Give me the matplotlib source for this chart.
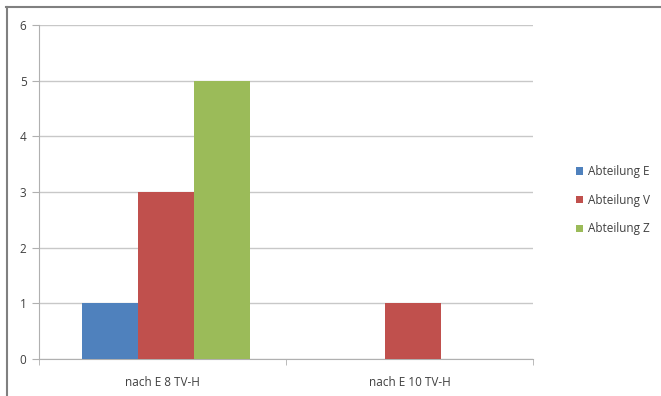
import matplotlib
matplotlib.use("Agg")
import matplotlib.pyplot as plt
from matplotlib.lines import Line2D
import numpy as np

categories = ["nach E 8 TV-H", "nach E 10 TV-H"]
series_names = ["Abteilung E", "Abteilung V", "Abteilung Z"]
abteilung_e = [1, 0]
abteilung_v = [3, 1]
abteilung_z = [5, 0]
y_ticks = [0, 1, 2, 3, 4, 5, 6]

colors = ["#4F81BD", "#C0504D", "#9BBB59"]
series = [abteilung_e, abteilung_v, abteilung_z]

plt.rcParams["font.family"] = ["Open Sans", "DejaVu Sans"]

fig = plt.figure(figsize=(6.61, 3.96), dpi=100)
ax = fig.add_axes([39 / 661, 37 / 396, (533 - 39) / 661, (359 - 25) / 396])

x = np.arange(len(categories))
width = 0.227
shift = 0.014
for i, (vals, col, name) in enumerate(zip(series, colors, series_names)):
    ax.bar(x + shift + (i - 1) * width, vals, width, color=col, label=name, zorder=3)

ax.set_xlim(-0.5, len(categories) - 0.5)
ax.set_ylim(0, 6)
ax.set_yticks(y_ticks)
ax.yaxis.grid(True, color="#C8C8C8", linewidth=1.0, zorder=0)

for side in ["top", "right"]:
    ax.spines[side].set_visible(False)
ax.spines["left"].set_color("#B0B0B0")
ax.spines["bottom"].set_color("#B0B0B0")

ax.tick_params(axis="y", length=5, color="#B0B0B0", labelsize=8.5, labelcolor="#404040", pad=4)
ax.set_xticks(x)
ax.set_xticklabels(categories)
ax.tick_params(axis="x", which="major", length=0, labelsize=8.5, labelcolor="#404040", pad=12)
ax.set_xticks(np.arange(-0.5, len(categories), 1.0), minor=True)
ax.tick_params(axis="x", which="minor", length=4, color="#B0B0B0")

leg = ax.legend(loc="center left", bbox_to_anchor=(1.065, 0.475), frameon=False,
                fontsize=8.5, handlelength=0.6, handleheight=0.6, handletextpad=0.4,
                labelspacing=1.32, labelcolor="#404040")

# outer chart frame (top and left edges)
fig.add_artist(Line2D([6 / 661, 1.0], [1 - 6.5 / 396, 1 - 6.5 / 396], color="#808080",
                      linewidth=1.5, transform=fig.transFigure))
fig.add_artist(Line2D([6.5 / 661, 6.5 / 661], [0, 1 - 6.5 / 396], color="#808080",
                      linewidth=1.5, transform=fig.transFigure))

fig.savefig("out.png", dpi=100)
